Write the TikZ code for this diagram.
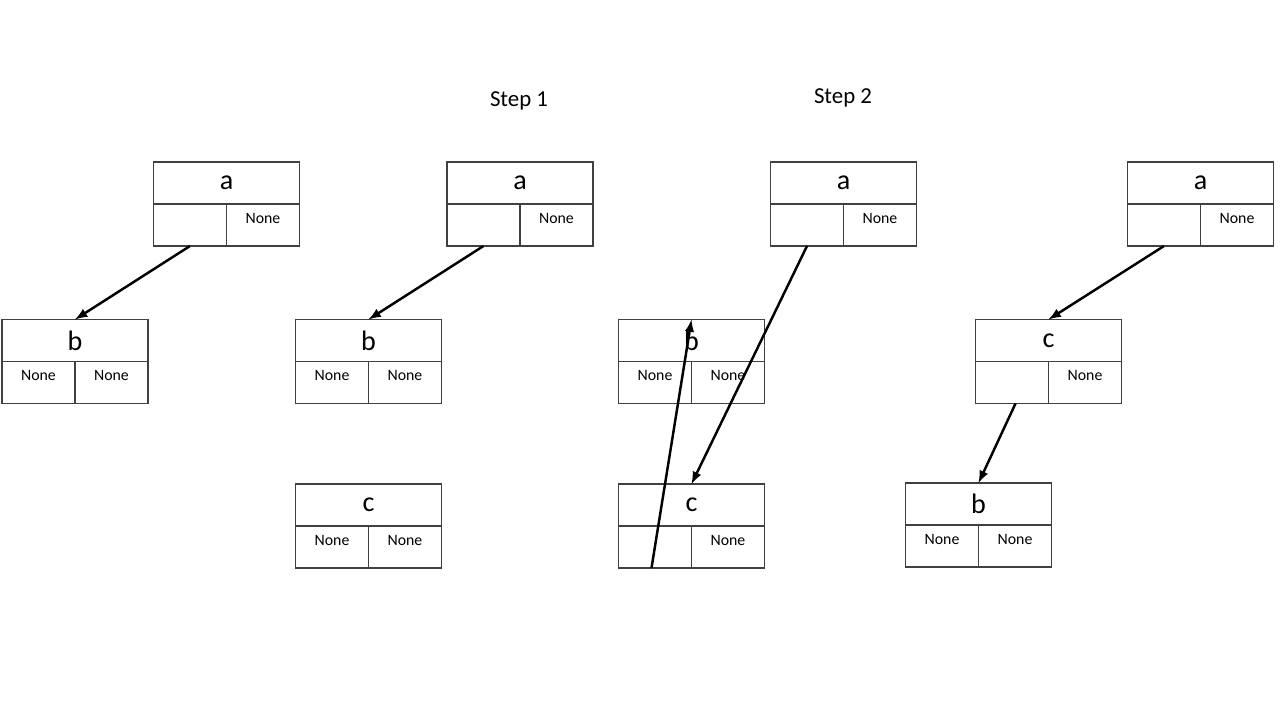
\documentclass[tikz,border=0pt]{standalone}
\usepackage{fontspec}
\setmainfont{Carlito}
\usetikzlibrary{positioning}

\tikzset{
    keybox/.style={draw=black!75,
        rectangle,
        line width=0.6pt,
        outer sep=0,
        minimum width=2.92cm,
        minimum height=0.84cm,
        font=\fontsize{16}{18}\selectfont},
    cellbox/.style={draw=black!75,
        rectangle,
        line width=0.6pt,
        outer sep=0,
        minimum width=1.46cm,
        minimum height=0.84cm,
        text height=6pt,
        text depth=8pt,
        font=\fontsize{9}{11}\selectfont},
    link/.style={-latex, line width=1.4pt}
}

\begin{document}
\begin{tikzpicture}[x=0.02cm,y=-0.02cm]
\useasboundingbox (0,0) rectangle (1280,720);

% Titles
\node[font=\fontsize{13}{15}\selectfont] (step1) at (519,101) {Step 1};
\node[font=\fontsize{13}{15}\selectfont] (step2) at (843,98) {Step 2};

% Start tree
\node[keybox] (a1) at (226.5,183) {a};
\node[cellbox, below right=0 of a1.south west] (a1l) {};
\node[cellbox, right=0 of a1l] (a1r) {None};

\node[keybox] (b1) at (75,340.5) {b};
\node[cellbox, below right=0 of b1.south west] (b1l) {None};
\node[cellbox, right=0 of b1l] (b1r) {None};

% Step 1: new node c
\node[keybox] (a2) at (520,183) {a};
\node[cellbox, below right=0 of a2.south west] (a2l) {};
\node[cellbox, right=0 of a2l] (a2r) {None};

\node[keybox] (b2) at (368.5,340.5) {b};
\node[cellbox, below right=0 of b2.south west] (b2l) {None};
\node[cellbox, right=0 of b2l] (b2r) {None};

\node[keybox] (c2) at (368.5,505) {c};
\node[cellbox, below right=0 of c2.south west] (c2l) {None};
\node[cellbox, right=0 of c2l] (c2r) {None};

% Step 2: relink
\node[keybox] (a3) at (843.5,183) {a};
\node[cellbox, below right=0 of a3.south west] (a3l) {};
\node[cellbox, right=0 of a3l] (a3r) {None};

\node[keybox] (b3) at (691.5,340.5) {b};
\node[cellbox, below right=0 of b3.south west] (b3l) {None};
\node[cellbox, right=0 of b3l] (b3r) {None};

\node[keybox] (c3) at (691.5,505) {c};
\node[cellbox, below right=0 of c3.south west] (c3l) {};
\node[cellbox, right=0 of c3l] (c3r) {None};

% Result
\node[keybox] (a4) at (1200.5,183) {a};
\node[cellbox, below right=0 of a4.south west] (a4l) {};
\node[cellbox, right=0 of a4l] (a4r) {None};

\node[keybox] (c4) at (1048.5,340.5) {c};
\node[cellbox, below right=0 of c4.south west] (c4l) {};
\node[cellbox, right=0 of c4l] (c4r) {None};

\node[keybox] (b4) at (978.5,504) {b};
\node[cellbox, below right=0 of b4.south west] (b4l) {None};
\node[cellbox, right=0 of b4l] (b4r) {None};

% Arrows
\draw[link] (a1l.south) -- (b1.north);
\draw[link] (a2l.south) -- (b2.north);
\draw[link] (a3l.south) -- (c3.north);
\draw[link] ([xshift=-2pt]c3l.south) -- (b3.north);
\draw[link] ([xshift=2pt]c4l.south) -- (b4.north);
\draw[link] (a4l.south) -- (c4.north);

\end{tikzpicture}
\end{document}
